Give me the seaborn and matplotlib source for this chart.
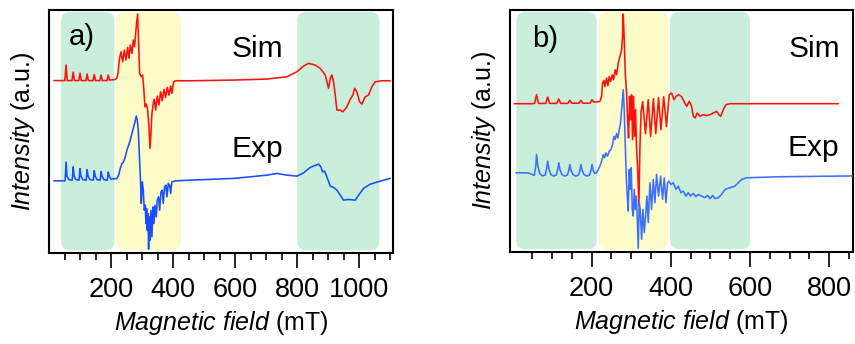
import matplotlib
matplotlib.use("Agg")
import matplotlib.pyplot as plt
import seaborn as sns
from matplotlib.patches import FancyBboxPatch

# ---------------- Panel a data (field in mT, intensity in a.u.) ----------------
a_sim_field = [15, 50, 54, 58, 73, 77, 81, 95, 99, 103, 118, 122, 126, 141, 145, 149,
               163, 167, 171, 186, 190, 194, 212, 218, 221.5, 225.8, 231.1, 236.5, 241.9,
               247.3, 252.6, 257, 261.2, 266.6, 270.9, 275.2, 279.5, 284.9, 288.1, 291.4,
               296.7, 301, 304.3, 308.6, 312.9, 317.2, 321.5, 324.7, 327.9, 331.1, 335.4,
               338.7, 343, 348.3, 353.7, 359.1, 364.5, 369.8, 375.2, 380.6, 386, 391.4,
               395.6, 401, 408.6, 454.8, 594.6, 702.2, 766.7, 799, 820.5, 836.6, 858.1,
               874.2, 890.4, 895.7, 901.1, 906.5, 911.9, 917.2, 922.6, 928, 938.7, 947.3,
               960.2, 971, 979.6, 985, 992.5, 1001.1, 1008.6, 1019.4, 1030.1, 1040.9,
               1051.6, 1073.1, 1100]
a_sim_int = [171.5, 171.5, 187, 171.5, 171.5, 180, 171.5, 171.5, 179, 171.5, 171.5, 178,
             171.5, 171.5, 177.5, 171.5, 171.5, 177, 171.5, 171.5, 177, 172, 172.5, 174,
             178.7, 192, 200.3, 190.3, 202, 192, 204.7, 193.7, 207, 198.7, 212, 205.3, 222,
             238, 208.7, 178.7, 175.3, 177, 165.3, 145.3, 148, 142, 125.3, 103.7, 118.7,
             138.7, 148.7, 152.7, 142, 156, 147, 160.3, 151.3, 162.7, 154.7, 164.7, 157,
             166, 158.7, 170.3, 171.3, 171.3, 172, 173, 175.3, 180.3, 186, 188.7, 187,
             183.7, 177, 170.3, 163.7, 173.7, 177, 170.3, 157, 142, 142, 140.3, 145.3,
             152.7, 157, 163.7, 160.3, 150.3, 148, 155.3, 157, 165.3, 170.3, 171.3, 171.3]

a_exp_field = [15, 50, 51, 54, 57, 63, 74, 77, 80, 86, 96, 99, 102, 108, 119, 122, 125,
               131, 142, 145, 148, 154, 164, 167, 170, 176, 187, 190, 193, 199, 218, 223.6,
               229, 234.4, 239.7, 245.1, 250.5, 255.9, 261.2, 266.6, 272, 275.2, 277.4,
               280.6, 283.8, 287, 290.3, 294.6, 296.7, 299.9, 303.2, 306.4, 309.6, 311.8,
               313.9, 316.1, 318.2, 320.4, 322.5, 324.7, 327.9, 331.1, 334.3, 337.6, 340.8,
               345.1, 348.3, 352.6, 355.9, 360.2, 364.5, 367.7, 372, 376.3, 379.5, 383.8,
               388.1, 391.4, 395.6, 406.4, 454.8, 594.6, 702.2, 734.4, 766.7, 799, 820.5,
               841.9, 868.8, 876.4, 881.7, 888.2, 895.7, 906.5, 917.2, 928, 938.7, 949.5,
               965.6, 987.1, 997.9, 1014, 1035.5, 1067.8, 1100]
a_exp_int = [71.3, 71.3, 71.5, 90, 76, 72.5, 72, 85.3, 76, 72.5, 72, 83.5, 76, 72.5, 72,
             82.5, 76, 72.5, 72, 81.5, 76, 72.5, 72, 80.7, 76, 72.5, 72, 80, 76, 73, 73.7,
             77, 83.7, 88.7, 90.3, 95.3, 102, 107, 112, 118.7, 125.3, 128.7, 132, 136, 132,
             122, 98.7, 68.7, 48.7, 70.3, 62, 42, 47, 28.7, 43.7, 22, 38.7, 3, 35.3, 12,
             42, 15.3, 45.3, 28.7, 47, 35.3, 52, 55.3, 42, 60.3, 62, 48.7, 65.3, 67, 55.3,
             68.7, 67, 58.7, 70.3, 71.3, 72, 73.7, 77, 78.7, 77, 76, 79.3, 84.7, 88, 85.3,
             80.3, 81, 75.3, 66, 64.7, 62, 57, 52, 52.7, 52, 57, 63.7, 68, 71, 73.7]

a_band_start = [38, 215, 800]
a_band_end = [210, 425, 1065]

# ---------------- Panel b data ----------------
b_sim_field = [5, 50, 56, 61, 66, 84, 89, 94, 112, 117, 122, 140, 145, 150, 168, 173, 178,
               196, 201, 206, 221, 225.2, 227.7, 231, 233.6, 237.8, 241.2, 244.5, 247.9,
               252.1, 255.5, 259.7, 263, 267.2, 271.5, 275.7, 278.2, 279.9, 282.4, 284.9,
               288.3, 290.8, 293.3, 295.9, 298.4, 300.9, 303.4, 306, 308.5, 311, 313.5,
               316.1, 319.4, 322, 325, 329, 336, 343, 349, 356, 362, 369, 375, 382, 389,
               396, 402, 408, 413, 419, 427, 433, 440, 446.6, 452.5, 456.7, 461, 467,
               473.5, 482, 490, 499, 507, 515.6, 521.5, 525.7, 532.4, 539.2, 549.3, 823]
b_sim_int = [148, 148, 148.3, 157, 148.3, 148.3, 154.7, 148.3, 148.3, 152.7, 148.3, 148.3,
             151.5, 148.5, 148.5, 151.3, 148.5, 148.5, 152, 149.5, 150.3, 155.3, 168.7,
             171.3, 165.3, 173.7, 166, 175.3, 170.3, 177, 172, 182, 177, 188.7, 195.3, 202,
             215.3, 238, 212, 178.7, 158.7, 132, 113.7, 155.3, 132, 157, 112, 155.3, 115.3,
             142, 102, 85.3, 45.3, 105, 140, 150, 118, 152, 115, 153, 118, 154, 122, 155,
             125, 157, 158.7, 152, 155.3, 157, 155.3, 150.3, 145.3, 150.3, 145.3, 135.3,
             133.7, 138.7, 135.3, 137, 136, 137, 138.7, 140.3, 137, 135.3, 142, 147, 148,
             148]

b_exp_field = [9, 40, 50, 55, 59, 61, 64, 69, 76, 83, 87, 89, 92, 97, 104, 111, 115, 117,
               120, 125, 132, 139, 143, 145, 148, 153, 160, 167, 171, 173, 176, 181, 188,
               195, 199, 201, 204, 208, 212.5, 221, 225.2, 229.4, 232.7, 236.1, 240.3,
               244.5, 248.7, 252.9, 256.3, 259.7, 263, 266.4, 269.8, 273.1, 276.5, 279.9,
               282.4, 284.9, 287.4, 290, 292.5, 295, 297.5, 300.1, 302.6, 305.1, 307.6,
               310.2, 312.7, 315.2, 317.7, 320.3, 322.8, 326.2, 329.5, 332.9, 336.3, 339.6,
               343, 347.2, 351.4, 355.6, 359.8, 364, 369.1, 374.1, 379.2, 383.4, 387.6,
               391.8, 395.2, 400.3, 406.2, 412.9, 418.8, 425.5, 431.4, 438.2, 444, 450,
               456.7, 463.4, 469.3, 477.7, 486.1, 492.9, 498.8, 505.5, 511.4, 519.8, 528.2,
               536.6, 549.3, 561.9, 570.3, 578.7, 591.3, 675.5, 858]
b_exp_int = [78.7, 78.5, 77, 76, 85, 97, 86, 78, 75.5, 76.5, 84, 90.3, 83, 77, 75.3, 76.5,
             83, 88.7, 82, 77, 75.3, 76.5, 82, 87, 81, 77, 75.3, 76.5, 82, 87, 81, 77, 75.3,
             76.5, 82, 87, 81, 78, 78.7, 85.3, 90.3, 97, 93.7, 98.7, 95.3, 100.3, 102, 107,
             115.3, 112, 118, 113.7, 122, 128.7, 145.3, 162, 142, 108.7, 75.3, 55.3, 40.3,
             82, 62, 83.7, 42, 35.3, 62, 42, 55.3, 35.3, 3, 48.7, 42, 12, 42, 18.7, 35.3,
             55.3, 28.7, 68.7, 42, 72, 48.7, 77, 55.3, 75.3, 52, 73.7, 48.7, 68.7, 70.3, 67,
             68.7, 62, 65.3, 58.7, 60.3, 55.3, 58.7, 55.3, 58, 54.7, 57, 55.3, 53.7, 56,
             52.7, 56, 52.7, 53.7, 57, 62, 63.7, 65.3, 68.7, 72, 73.7, 74.7, 75.5]

b_band_start = [10, 218, 398]
b_band_end = [213, 393, 600]

band_colors = ["#c9eed9", "#fdfcc8", "#c9eed9"]

# ---------------- Style ----------------
sns.set_style("ticks")
plt.rcParams["font.family"] = ["Liberation Sans", "DejaVu Sans"]
plt.rcParams["mathtext.fontset"] = "custom"
plt.rcParams["mathtext.it"] = "Liberation Sans:italic"
plt.rcParams["mathtext.rm"] = "Liberation Sans"
plt.rcParams["text.color"] = "black"
plt.rcParams["axes.labelcolor"] = "black"
plt.rcParams["xtick.color"] = "black"
plt.rcParams["xtick.labelcolor"] = "black"
plt.rcParams["axes.edgecolor"] = "black"

fig = plt.figure(figsize=(8.55, 3.44), dpi=100)
ax_a = fig.add_axes([0.0577, 0.2654, 0.4023, 0.7055])
ax_b = fig.add_axes([0.5965, 0.2683, 0.4012, 0.7026])

YLIM = (-0.5, 242)


def draw_panel(ax, xlim, b_lo, b_hi, sim_x, sim_y, exp_x, exp_y, exp_color,
               majors, minors, tag, tag_pos, sim_pos, exp_pos):
    ax.set_xlim(*xlim)
    ax.set_ylim(*YLIM)
    bb = ax.get_position()
    w_px = bb.width * fig.get_figwidth() * fig.dpi
    h_px = bb.height * fig.get_figheight() * fig.dpi
    xu = (xlim[1] - xlim[0]) / w_px
    yu = (YLIM[1] - YLIM[0]) / h_px
    r_px = 9
    for lo, hi, c in zip(b_lo, b_hi, band_colors):
        p = FancyBboxPatch((lo, 2), hi - lo, 238,
                           boxstyle=f"round,pad=0,rounding_size={r_px * xu}",
                           mutation_aspect=yu / xu, fc=c, ec="none", zorder=0)
        ax.add_patch(p)
    sns.lineplot(x=sim_x, y=sim_y, ax=ax, color="#ff1010", lw=1.15,
                 sort=False, estimator=None, zorder=3)
    sns.lineplot(x=exp_x, y=exp_y, ax=ax, color=exp_color, lw=1.15,
                 sort=False, estimator=None, zorder=3)
    ax.set_xticks(majors)
    ax.set_xticks(minors, minor=True)
    ax.set_yticks([])
    ax.tick_params(axis="x", which="major", length=10.5, width=1.2, direction="out",
                   labelsize=19.5, pad=7, color="black", labelcolor="black")
    ax.tick_params(axis="x", which="minor", length=5, width=1.2, direction="out",
                   color="black")
    for s in ax.spines.values():
        s.set_linewidth(1.5)
        s.set_color("black")
    ax.set_xlabel(r"$\mathit{Magnetic\ field}$ (mT)", fontsize=18, labelpad=4,
                  color="black")
    ax.set_ylabel(r"$\mathit{Intensity}$ (a.u.)", fontsize=18, labelpad=9,
                  color="black")
    ax.text(*tag_pos, tag, transform=ax.transAxes, fontsize=21, ha="left",
            va="baseline", color="black")
    ax.text(*sim_pos, "Sim", transform=ax.transAxes, fontsize=21.5, ha="left",
            va="baseline", color="black")
    ax.text(*exp_pos, "Exp", transform=ax.transAxes, fontsize=21.5, ha="left",
            va="baseline", color="black")


a_majors = [200, 400, 600, 800, 1000]
a_minors = [m for m in range(50, 1101, 50) if m not in a_majors]
b_majors = [200, 400, 600, 800]
b_minors = [m for m in range(50, 851, 50) if m not in b_majors]

draw_panel(ax_a, (0, 1110), a_band_start, a_band_end, a_sim_field, a_sim_int,
           a_exp_field, a_exp_int, "#1a4dff", a_majors, a_minors,
           "a)", (0.055, 0.856), (0.53, 0.808), (0.53, 0.396))
draw_panel(ax_b, (-6, 860), b_band_start, b_band_end, b_sim_field, b_sim_int,
           b_exp_field, b_exp_int, "#3d6fff", b_majors, b_minors,
           "b)", (0.063, 0.848), (0.811, 0.807), (0.810, 0.394))

fig.savefig("out.png", dpi=100)
